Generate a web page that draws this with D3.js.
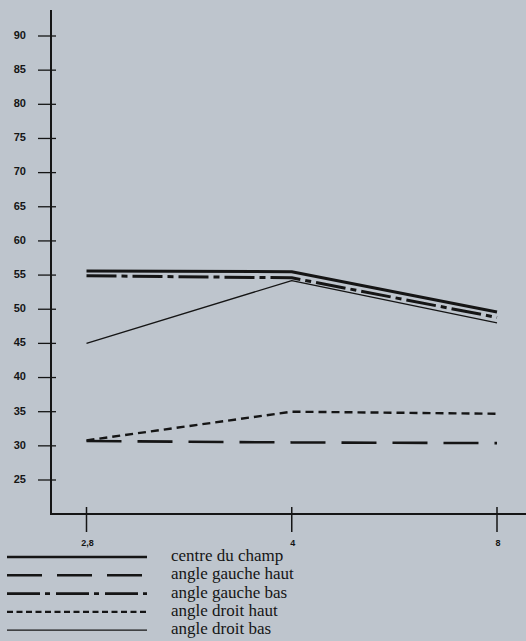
<!DOCTYPE html>
<html><head><meta charset="utf-8">
<script src="https://cdn.jsdelivr.net/npm/d3@7"></script>
<style>html,body{margin:0;padding:0;background:#bec5cd;}svg{display:block;}</style>
</head><body>
<svg id="c" width="526" height="641"></svg>
<script>
const categories = ["2,8", "4", "8"];
const yTicks = [25, 30, 35, 40, 45, 50, 55, 60, 65, 70, 75, 80, 85, 90];
const centreDuChamp = [55.6, 55.5, 49.6];
const angleGaucheHaut = [30.7, 30.5, 30.4];
const angleGaucheBas = [54.9, 54.6, 48.8];
const angleDroitHaut = [30.8, 35.0, 34.7];
const angleDroitBas = [45.0, 54.2, 48.0];
const seriesNames = ["centre du champ", "angle gauche haut", "angle gauche bas", "angle droit haut", "angle droit bas"];

const series = [
  {name: seriesNames[0], values: centreDuChamp, w: 3, dash: null, ldash: null},
  {name: seriesNames[1], values: angleGaucheHaut, w: 2.6, dash: "35,16", ldash: "35,15"},
  {name: seriesNames[2], values: angleGaucheBas, w: 3, dash: "30,5,6,5", ldash: "33,5,5,6"},
  {name: seriesNames[3], values: angleDroitHaut, w: 2.4, dash: "8,5", ldash: "6,3.5"},
  {name: seriesNames[4], values: angleDroitBas, w: 1.3, dash: null, ldash: null}
];

const svg = d3.select("#c");
const ink = "#151515";
const x = d3.scalePoint().domain(categories).range([86.5, 497]).padding(0);
const y = d3.scaleLinear().domain([25, 90]).range([480, 36]);

const axX = 51, axY = 514;
svg.append("line").attr("x1", axX).attr("x2", axX).attr("y1", 10).attr("y2", axY + 1)
  .attr("stroke", ink).attr("stroke-width", 2);
svg.append("line").attr("x1", axX - 1).attr("x2", 526).attr("y1", axY).attr("y2", axY)
  .attr("stroke", ink).attr("stroke-width", 2);

const yg = svg.append("g");
yg.selectAll("line").data(yTicks).join("line")
  .attr("x1", 38).attr("x2", 56).attr("y1", d => y(d)).attr("y2", d => y(d))
  .attr("stroke", ink).attr("stroke-width", 1.3);
yg.selectAll("text").data(yTicks).join("text")
  .attr("x", 26).attr("y", d => y(d) - 1).attr("dy", "0.35em")
  .attr("text-anchor", "end")
  .attr("font-family", "Liberation Sans, Arial, sans-serif").attr("font-weight", "bold")
  .attr("font-size", 11).attr("fill", ink).text(d => d);

const xg = svg.append("g");
xg.selectAll("line").data(categories).join("line")
  .attr("x1", d => x(d)).attr("x2", d => x(d)).attr("y1", 507).attr("y2", 532)
  .attr("stroke", ink).attr("stroke-width", 1.5);
xg.selectAll("text").data(categories).join("text")
  .attr("x", d => x(d) + 1).attr("y", 546)
  .attr("text-anchor", "middle")
  .attr("font-family", "Liberation Sans, Arial, sans-serif").attr("font-weight", "bold")
  .attr("font-size", 9).attr("fill", ink).text(d => d);

const line = d3.line().x((d, i) => x(categories[i])).y(d => y(d));
svg.append("g").selectAll("path").data(series).join("path")
  .attr("d", d => line(d.values))
  .attr("fill", "none").attr("stroke", ink)
  .attr("stroke-width", d => d.w)
  .attr("stroke-dasharray", d => d.dash)
  .attr("stroke-linejoin", "round");

const lg = svg.append("g");
const rowY = i => 557 + i * 18.3;
lg.selectAll("line").data(series).join("line")
  .attr("x1", 7).attr("x2", 147).attr("y1", (d, i) => rowY(i)).attr("y2", (d, i) => rowY(i))
  .attr("stroke", ink).attr("stroke-width", d => Math.min(d.w, 2.6))
  .attr("stroke-dasharray", d => d.ldash);
lg.selectAll("text").data(series).join("text")
  .attr("x", 171).attr("y", (d, i) => rowY(i) + 4)
  .attr("font-family", "Liberation Serif, Times New Roman, serif")
  .attr("font-size", 17).attr("fill", ink).text(d => d.name);
</script>
</body></html>
